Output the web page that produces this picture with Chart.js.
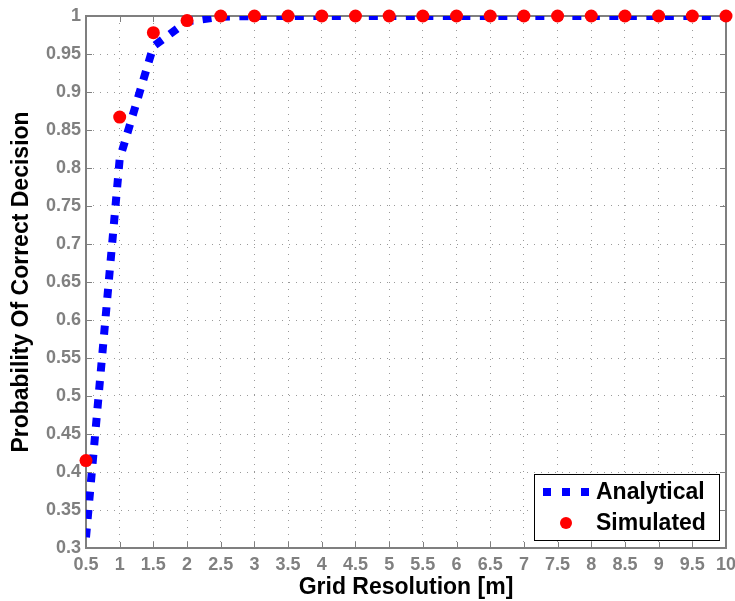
<!DOCTYPE html>
<html>
<head>
<meta charset="utf-8">
<script src="https://cdn.jsdelivr.net/npm/chart.js@4/dist/chart.umd.min.js"></script>
<style>
  html, body { margin: 0; padding: 0; background: #fff; }
  canvas { display: block; }
</style>
</head>
<body>
<canvas id="chart" width="735" height="601"></canvas>
<script>
// grid resolution in metres
const resolutions = [0.5, 1, 1.5, 2, 2.5, 3, 3.5, 4, 4.5, 5, 5.5, 6, 6.5, 7, 7.5, 8, 8.5, 9, 9.5, 10];
// analytical curve
const analytical = [0.314, 0.812, 0.96, 0.993, 0.999, 1, 1, 1, 1, 1, 1, 1, 1, 1, 1, 1, 1, 1, 1, 1];
// simulated points
const simulated = [0.415, 0.867, 0.978, 0.994, 1, 1, 1, 1, 1, 1, 1, 1, 1, 1, 1, 1, 1, 1, 1, 1];

const axisGray = "#7f7f7f";
const labelGray = "#808080";
const font = "'Liberation Sans', Arial, sans-serif";

// box round the axes + inward tick marks (matlab style)
const boxPlugin = {
  id: "box",
  beforeDatasetsDraw(chart) {
    const { ctx, chartArea: a, scales } = chart;
    ctx.save();
    ctx.strokeStyle = axisGray;
    ctx.lineWidth = 1;
    const len = 6;
    ctx.beginPath();
    scales.x.ticks.forEach(t => {
      const px = Math.round(scales.x.getPixelForValue(t.value)) + 0.5;
      ctx.moveTo(px, a.bottom); ctx.lineTo(px, a.bottom - len);
      ctx.moveTo(px, a.top); ctx.lineTo(px, a.top + len);
    });
    scales.y.ticks.forEach(t => {
      const py = Math.round(scales.y.getPixelForValue(t.value)) + 0.5;
      ctx.moveTo(a.left, py); ctx.lineTo(a.left + len, py);
      ctx.moveTo(a.right, py); ctx.lineTo(a.right - len, py);
    });
    ctx.stroke();
    ctx.lineWidth = 2;
    ctx.strokeRect(a.left, a.top, a.right - a.left, a.bottom - a.top);
    ctx.restore();
  }
};

// legend inside bottom right corner
const legendPlugin = {
  id: "boxLegend",
  afterDraw(chart) {
    const { ctx, chartArea: a } = chart;
    const x = a.right - 192, y = a.bottom - 74, w = 185, h = 66;
    ctx.save();
    ctx.fillStyle = "#fff";
    ctx.fillRect(x, y, w, h);
    ctx.strokeStyle = "#000";
    ctx.lineWidth = 1;
    ctx.strokeRect(x + 0.5, y + 0.5, w, h);

    const row1 = y + 18, row2 = y + 49;
    ctx.fillStyle = "#0000ff";
    for (let i = 0; i < 3; i++) ctx.fillRect(x + 9 + i * 19, row1 - 4, 8, 8);
    ctx.fillStyle = "#ff0000";
    ctx.beginPath();
    ctx.arc(x + 32, row2, 6, 0, Math.PI * 2);
    ctx.fill();

    ctx.fillStyle = "#000";
    ctx.font = "bold 23px " + font;
    ctx.textBaseline = "middle";
    ctx.fillText("Analytical", x + 62, row1 + 1);
    ctx.fillText("Simulated", x + 62, row2 + 1);
    ctx.restore();
  }
};

const fmt = v => String(Number(v.toFixed(2)));

new Chart(document.getElementById("chart"), {
  type: "line",
  data: {
    datasets: [
      {
        label: "Analytical",
        data: resolutions.map((r, i) => ({ x: r, y: analytical[i] })),
        borderColor: "#0000ff",
        borderWidth: 8,
        borderDash: [9, 9.5],
        borderCapStyle: "butt",
        pointRadius: 0,
        tension: 0,
        fill: false,
        clip: 0,
        order: 2
      },
      {
        label: "Simulated",
        data: resolutions.map((r, i) => ({ x: r, y: simulated[i] })),
        showLine: false,
        pointRadius: 6.5,
        pointStyle: "circle",
        pointBackgroundColor: "#ff0000",
        pointBorderWidth: 0,
        clip: false,
        order: 1
      }
    ]
  },
  options: {
    responsive: false,
    animation: false,
    layout: { padding: { top: 16, right: 9, left: 0, bottom: 0 } },
    plugins: {
      legend: { display: false },
      tooltip: { enabled: false }
    },
    scales: {
      x: {
        type: "linear",
        min: 0.5,
        max: 10,
        afterFit(scale) {
          scale.height = 53;
          scale.paddingLeft = 0;
          scale.paddingRight = 0;
        },
        ticks: {
          stepSize: 0.5,
          autoSkip: false,
          maxRotation: 0,
          padding: 6,
          color: labelGray,
          font: { family: font, size: 18, weight: "bold" },
          callback: v => fmt(v)
        },
        grid: { color: "#9a9a9a", lineWidth: 1, drawTicks: false },
        border: { display: false, dash: [1, 6] },
        title: {
          display: true,
          text: "Grid Resolution [m]",
          color: "#000",
          font: { family: font, size: 23, weight: "bold" },
          padding: { top: 0, bottom: 0 }
        }
      },
      y: {
        min: 0.3,
        max: 1,
        afterFit(scale) {
          scale.width = 86;
          scale.paddingTop = 0;
          scale.paddingBottom = 0;
        },
        ticks: {
          stepSize: 0.05,
          autoSkip: false,
          padding: 5,
          color: labelGray,
          font: { family: font, size: 18, weight: "bold" },
          callback: v => fmt(v)
        },
        grid: { color: "#9a9a9a", lineWidth: 1, drawTicks: false },
        border: { display: false, dash: [1, 6] },
        title: {
          display: true,
          text: "Probability Of Correct Decision",
          color: "#000",
          font: { family: font, size: 23, weight: "bold" },
          padding: { top: 8, bottom: 0 }
        }
      }
    }
  },
  plugins: [boxPlugin, legendPlugin]
});
</script>
</body>
</html>
